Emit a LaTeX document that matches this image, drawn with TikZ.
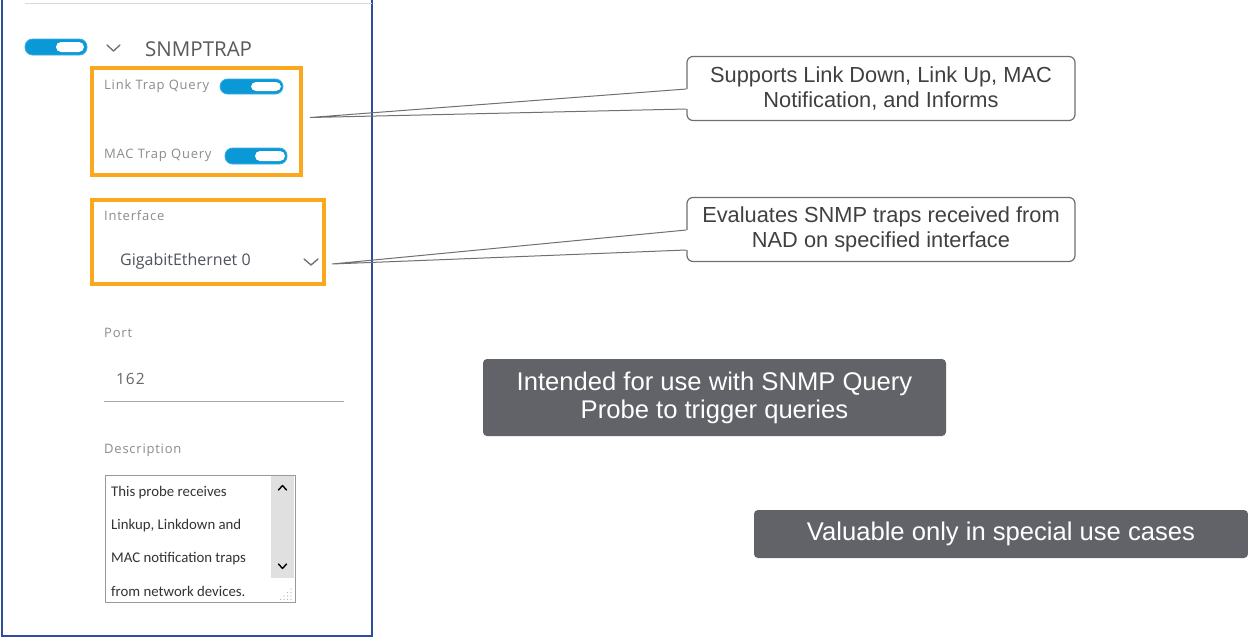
\documentclass[tikz,border=0pt]{standalone}
\usepackage{fontspec}
\setmainfont{Liberation Sans}
\newfontfamily\uifont{Open Sans}
\newfontfamily\uifontsp[LetterSpace=6]{Open Sans}
\newfontfamily\descfont{Carlito}
\definecolor{orangec}{HTML}{FBA81F}
\definecolor{toggleblue}{HTML}{0B98D6}
\definecolor{toggleedge}{HTML}{3AAFE3}
\definecolor{panelblue}{HTML}{2E4E9C}
\definecolor{calloutgray}{HTML}{707070}
\definecolor{textgray}{HTML}{404040}
\definecolor{darkfill}{HTML}{626368}
\definecolor{labelgray}{HTML}{8C8C8C}
\definecolor{valuegray}{HTML}{4F535C}
\definecolor{headgray}{HTML}{5A5A5A}
\begin{document}
\begin{tikzpicture}[x=1pt,y=-1pt,
  orangebox/.style={draw=orangec, line width=4pt},
  callout/.style={draw=calloutgray, rounded corners=6pt, line width=1.2pt, fill=white,
     minimum width=388pt, minimum height=64pt, align=center, text=textgray,
     font=\fontsize{21.8}{25}\selectfont, inner sep=0pt},
  darkbox/.style={fill=darkfill, rounded corners=4pt, text=white, align=center, inner sep=0pt},
  pointer/.style={draw=calloutgray, line width=1pt, line join=miter},
  uilabel/.style={anchor=west, inner sep=0pt, text=labelgray, font=\uifontsp\fontsize{13}{14}\selectfont},
  uivalue/.style={anchor=west, inner sep=0pt, text=valuegray, font=\uifont\fontsize{16}{18}\selectfont},
  desctext/.style={anchor=west, inner sep=0pt, text=black!80, font=\descfont\fontsize{14.8}{16}\selectfont},
  chev/.style={draw=black!55, line width=1.4pt, line cap=round, line join=round},
  togglebg/.style={fill=toggleblue, draw=toggleedge, line width=0.8pt, rounded corners=7.5pt},
  toggleknob/.style={fill=white, rounded corners=5pt}
]
\useasboundingbox (0,0) rectangle (1248,637);
\fill[white] (0,0) rectangle (1248,637);

% panel border
\draw[panelblue, line width=1.3pt] (2,0) -- (2,636) -- (372,636) -- (372,0);
\draw[black!15, line width=1pt] (25,3) -- (372,3);

% main toggle
\draw[togglebg] (25,39) rectangle (87,55);
\fill[toggleknob] (56,42) rectangle (84,52);
\draw[chev] (107,45) -- (113.5,51) -- (120,45);
\node[anchor=west, inner sep=0pt, text=headgray, font=\uifont\fontsize{20.5}{22}\selectfont] (title) at (145,49.5) {SNMPTRAP};

% orange box 1
\draw[orangebox] (92,68) rectangle (301,175);
\node[uilabel] (linklbl) at (104,86) {Link Trap Query};
\draw[togglebg] (220,79) rectangle (283,94);
\fill[toggleknob] (251,82) rectangle (281,91);
\node[uilabel] (maclbl) at (104,155.5) {MAC Trap Query};
\draw[togglebg] (225,148) rectangle (287,164);
\fill[toggleknob] (255,151) rectangle (285,161);
\coordinate (tip1) at (310,117.5);

% orange box 2
\draw[orangebox] (92,200) rectangle (324,284);
\node[uilabel] (iflbl) at (104,216) {Interface};
\node[uivalue] (ifval) at (120,261.5) {GigabitEthernet 0};
\draw[chev] (304,259) -- (311,265) -- (318,259);
\coordinate (tip2) at (332,264);

% port
\node[uilabel] (portlbl) at (104,333) {Port};
\node[uilabel, text=black!60, font=\uifontsp\fontsize{15.5}{17}\selectfont] (portval) at (116,378.5) {162};
\draw[black!35, line width=1pt] (104,401) -- (344,401);

% description
\node[uilabel] (desclbl) at (104,450.5) {Description};
\draw[black!40, line width=1pt] (105,475) rectangle (295,602);
\fill[black!12] (271,476) rectangle (294,578);
\draw[black, line width=1.4pt, line cap=round, line join=round] (278.5,490) -- (282.5,485.5) -- (286.5,490);
\draw[black, line width=1.4pt, line cap=round, line join=round] (278.5,564) -- (282.5,568.5) -- (286.5,564);
\foreach \p in {(291,589),(291,592.5),(287.5,592.5),(291,596),(287.5,596),(284,596),(291,599.5),(287.5,599.5),(284,599.5),(280.5,599.5)}
  \fill[black!30] \p circle (0.7pt);
\node[desctext] (d1) at (111,493) {This probe receives};
\node[desctext] (d2) at (111,525.5) {Linkup, Linkdown and};
\node[desctext] (d3) at (111,558.5) {MAC notification traps};
\node[desctext] (d4) at (111,591) {from network devices.};

% callouts
\node[callout] (c1) at (881,88.5) {Supports Link Down, Link Up, MAC\\Notification, and Informs};
\node[callout] (c2) at (881,229.5) {Evaluates SNMP traps received from\\NAD on specified interface};

\fill[white] ([yshift=-0.5pt, xshift=-1pt]c1.west) rectangle ([yshift=-20.5pt, xshift=1.5pt]c1.west);
\draw[pointer] ([yshift=-0.5pt]c1.west) -- (tip1) -- ([yshift=-20.5pt]c1.west);
\fill[white] ([yshift=-0.5pt, xshift=-1pt]c2.west) rectangle ([yshift=-20.5pt, xshift=1.5pt]c2.west);
\draw[pointer] ([yshift=-0.5pt]c2.west) -- (tip2) -- ([yshift=-20.5pt]c2.west);

% dark boxes
\node[darkbox, minimum width=463pt, minimum height=77pt, font=\fontsize{25.6}{28}\selectfont] (d1box) at (714.5,397.5) {Intended for use with SNMP Query\\Probe to trigger queries};
\node[darkbox, minimum width=494pt, minimum height=48pt, font=\fontsize{25.6}{28}\selectfont] (d2box) at (1001,534) {Valuable only in special use cases};
\end{tikzpicture}
\end{document}
